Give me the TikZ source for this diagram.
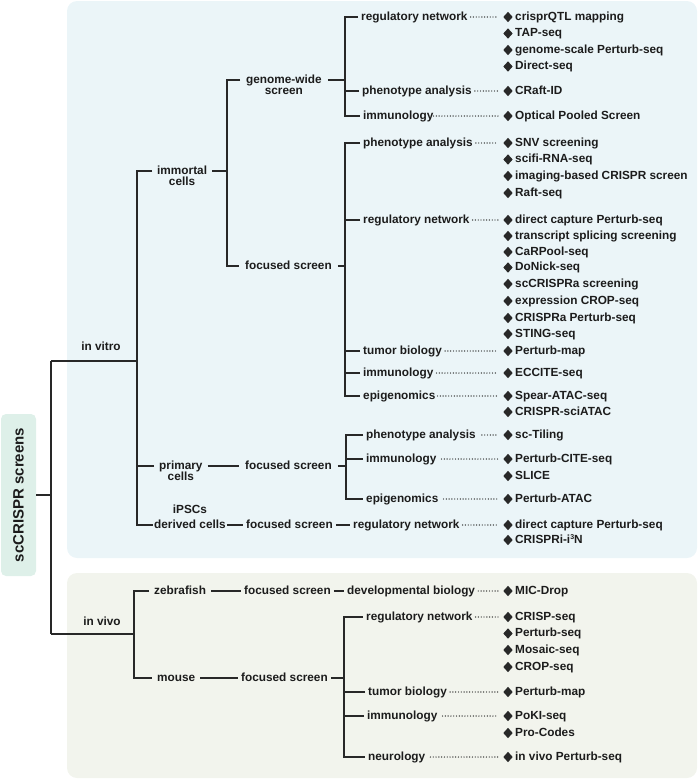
\documentclass[tikz,border=0pt]{standalone}
\usepackage{fontspec}
\setmainfont{Liberation Sans}
\usetikzlibrary{shapes.geometric}
\definecolor{bluebg}{RGB}{235,245,248}
\definecolor{greenbg}{RGB}{242,244,237}
\definecolor{rootbg}{RGB}{222,240,233}
\definecolor{linec}{RGB}{40,40,40}
\definecolor{txt}{RGB}{28,28,28}
\newcommand{\scitem}[3]{%
  \node[dia] (#1d) at (508,#2) {};
  \node[lbl] (#1) at (512,#2) {#3};}
\newcommand{\smallsup}[1]{\raisebox{3.6pt}{\fontsize{7}{8}\selectfont #1}}
\begin{document}
\begin{tikzpicture}[x=1pt,y=-1pt,
  conn/.style={draw=linec,line width=1.7pt},
  dotl/.style={draw=linec,line width=1.4pt,line cap=round,dash pattern=on 0pt off 2.8pt},
  lbl/.style={font=\bfseries\fontsize{11.8}{13}\selectfont, text=txt, inner xsep=3pt, inner ysep=0pt, text height=8.7pt, text depth=2.5pt, anchor=west},
  dia/.style={diamond, fill=linec, inner sep=0pt, minimum width=9.5pt, minimum height=10.5pt},
]
\useasboundingbox (0,0) rectangle (700,779);
% backgrounds
\fill[bluebg, rounded corners=10pt] (67,1) rectangle (697,558);
\fill[greenbg, rounded corners=10pt] (67,573) rectangle (697,778);
% root
\node[fill=rootbg, rounded corners=5pt, rotate=90, minimum width=162pt, minimum height=35pt,
  font=\bfseries\fontsize{15}{17}\selectfont, text=txt, inner sep=0pt] (root) at (18.5,495) {scCRISPR screens};
\coordinate (r0) at (51,361);
\coordinate (r1) at (51,634);
\coordinate (v1) at (137,0);
\coordinate (v2) at (134,0);
\coordinate (v3) at (227,0);
\coordinate (v4) at (345,0);
\coordinate (v5) at (346,0);
\coordinate (v6) at (344,0);
\draw[conn] (root.south) -- (root.south -| r0);
\draw[conn] (r0) -- (r1);
\draw[conn] (r0) -- (r0 -| v1);
\draw[conn] (r1) -- (r1 -| v2);
\node[lbl,anchor=center] (invitro) at (101,347) {in vitro};
\node[lbl,anchor=center] (invivo) at (102,622) {in vivo};

% ---------- in vitro level 1
\node[lbl,inner xsep=5pt] (imm) at (152,171) {immortal};
\node[lbl,anchor=north] (immc) at (imm.south) {cells};
\node[lbl,inner xsep=5pt] (prim) at (154,466) {primary};
\node[lbl,anchor=north] (primc) at (prim.south) {cells};
\node[lbl,inner xsep=1pt] (der) at (153,525) {derived cells};
\node[lbl,anchor=south,yshift=3pt] (ipsc) at (der.north) {iPSCs};
\draw[conn] (imm.west) -- (imm.west -| v1) -- (der.west -| v1) -- (der.west);
\draw[conn] (prim.west) -- (prim.west -| v1);

% ---------- immortal level 2
\node[lbl,inner xsep=6pt] (gw) at (240,80) {genome-wide};
\node[lbl,anchor=north] (gws) at (gw.south) {screen};
\node[lbl,inner xsep=6pt] (fs1) at (239,266) {focused screen};
\draw[conn] (imm.east) -- (imm.east -| v3);
\draw[conn] (gw.west) -- (gw.west -| v3) -- (fs1.west -| v3) -- (fs1.west);
\draw[conn] (gw.east) -- (gw.east -| v4);
\draw[conn] (fs1.east) -- (fs1.east -| v4);

% genome-wide categories
\node[lbl] (c1) at (358,17) {regulatory network};
\node[lbl] (c2) at (359,91) {phenotype analysis};
\node[lbl] (c3) at (360,116) {immunology};
\draw[conn] (c1.west) -- (c1.west -| v4) -- (c3.west -| v4) -- (c3.west);
\draw[conn] (c2.west) -- (c2.west -| v4);
\scitem{a1}{17}{crisprQTL mapping}
\scitem{a2}{33.5}{TAP-seq}
\scitem{a3}{50}{genome-scale Perturb-seq}
\scitem{a4}{66.5}{Direct-seq}
\scitem{b1}{91}{CRaft-ID}
\scitem{b2}{116}{Optical Pooled Screen}
\draw[dotl] (c1.east) -- ([xshift=-5pt]a1d.west);
\draw[dotl] (c2.east) -- ([xshift=-5pt]b1d.west);
\draw[dotl] ([xshift=-3pt]c3.east) -- ([xshift=-5pt]b2d.west);

% focused screen categories
\node[lbl] (f1) at (360,143) {phenotype analysis};
\node[lbl] (f2) at (360,220) {regulatory network};
\node[lbl] (f3) at (360,351) {tumor biology};
\node[lbl] (f4) at (360,373) {immunology};
\node[lbl] (f5) at (360,396) {epigenomics};
\draw[conn] (f1.west) -- (f1.west -| v4) -- (f5.west -| v4) -- (f5.west);
\draw[conn] (f2.west) -- (f2.west -| v4);
\draw[conn] (f3.west) -- (f3.west -| v4);
\draw[conn] (f4.west) -- (f4.west -| v4);
\scitem{e1}{143}{SNV screening}
\scitem{e2}{159.5}{scifi-RNA-seq}
\scitem{e3}{176}{imaging-based CRISPR screen}
\scitem{e4}{193}{Raft-seq}
\scitem{g1}{220}{direct capture Perturb-seq}
\scitem{g2}{236}{transcript splicing screening}
\scitem{g3}{252}{CaRPool-seq}
\scitem{g4}{267.5}{DoNick-seq}
\scitem{g5}{284}{scCRISPRa screening}
\scitem{g6}{301}{expression CROP-seq}
\scitem{g7}{318}{CRISPRa Perturb-seq}
\scitem{g8}{334}{STING-seq}
\scitem{h1}{351}{Perturb-map}
\scitem{h2}{373}{ECCITE-seq}
\scitem{h3}{396}{Spear-ATAC-seq}
\scitem{h4}{412}{CRISPR-sciATAC}
\draw[dotl] (f1.east) -- ([xshift=-5pt]e1d.west);
\draw[dotl] (f2.east) -- ([xshift=-5pt]g1d.west);
\draw[dotl] (f3.east) -- ([xshift=-5pt]h1d.west);
\draw[dotl] (f4.east) -- ([xshift=-5pt]h2d.west);
\draw[dotl] ([xshift=-1pt]f5.east) -- ([xshift=-5pt]h3d.west);

% ---------- primary cells
\node[lbl,inner xsep=6pt] (fs2) at (239,466) {focused screen};
\draw[conn] (prim.east) -- (fs2.west);
\draw[conn] (fs2.east) -- (fs2.east -| v5);
\node[lbl] (p1) at (363,435) {phenotype analysis};
\node[lbl] (p2) at (363,459) {immunology};
\node[lbl] (p3) at (363,499) {epigenomics};
\draw[conn] (p1.west) -- (p1.west -| v5) -- (p3.west -| v5) -- (p3.west);
\draw[conn] (p2.west) -- (p2.west -| v5);
\scitem{k1}{435}{sc-Tiling}
\scitem{k2}{459}{Perturb-CITE-seq}
\scitem{k3}{476}{SLICE}
\scitem{k4}{499}{Perturb-ATAC}
\draw[dotl] ([xshift=3pt]p1.east) -- ([xshift=-5pt]k1d.west);
\draw[dotl] ([xshift=2pt]p2.east) -- ([xshift=-5pt]k2d.west);
\draw[dotl] ([xshift=2pt]p3.east) -- ([xshift=-5pt]k4d.west);

% ---------- iPSCs
\node[lbl] (fs3) at (243,525) {focused screen};
\node[lbl] (q1) at (350,525) {regulatory network};
\draw[conn] (der.east) -- (fs3.west);
\draw[conn] (fs3.east) -- (q1.west);
\scitem{l1}{525}{direct capture Perturb-seq}
\scitem{l2}{540}{CRISPRi-i\smallsup{3}N}
\draw[dotl] (q1.east) -- ([xshift=-5pt]l1d.west);

% ---------- in vivo
\node[lbl,inner xsep=5pt] (zf) at (149,591) {zebrafish};
\node[lbl,inner xsep=5pt] (mo) at (152,678) {mouse};
\draw[conn] (zf.west) -- (zf.west -| v2) -- (mo.west -| v2) -- (mo.west);
\node[lbl] (fs4) at (241,591) {focused screen};
\node[lbl] (db) at (344,591) {developmental biology};
\draw[conn] (zf.east) -- (fs4.west);
\draw[conn] (fs4.east) -- (db.west);
\scitem{m0}{591}{MIC-Drop}
\draw[dotl] (db.east) -- ([xshift=-5pt]m0d.west);

\node[lbl] (fs5) at (238,678) {focused screen};
\draw[conn] (mo.east) -- (fs5.west);
\draw[conn] (fs5.east) -- (fs5.east -| v6);
\node[lbl] (n1) at (363,617) {regulatory network};
\node[lbl] (n2) at (365,692) {tumor biology};
\node[lbl] (n3) at (364,716) {immunology};
\node[lbl] (n4) at (365,757) {neurology};
\draw[conn] (n1.west) -- (n1.west -| v6) -- (n4.west -| v6) -- (n4.west);
\draw[conn] (n2.west) -- (n2.west -| v6);
\draw[conn] (n3.west) -- (n3.west -| v6);
\scitem{o1}{617}{CRISP-seq}
\scitem{o2}{633.5}{Perturb-seq}
\scitem{o3}{650}{Mosaic-seq}
\scitem{o4}{667}{CROP-seq}
\scitem{o5}{692}{Perturb-map}
\scitem{o6}{716}{PoKI-seq}
\scitem{o7}{733}{Pro-Codes}
\scitem{o8}{757}{in vivo Perturb-seq}
\draw[dotl] (n1.east) -- ([xshift=-5pt]o1d.west);
\draw[dotl] (n2.east) -- ([xshift=-5pt]o5d.west);
\draw[dotl] ([xshift=2pt]n3.east) -- ([xshift=-5pt]o6d.west);
\draw[dotl] ([xshift=2pt]n4.east) -- ([xshift=-5pt]o8d.west);
\end{tikzpicture}
\end{document}
